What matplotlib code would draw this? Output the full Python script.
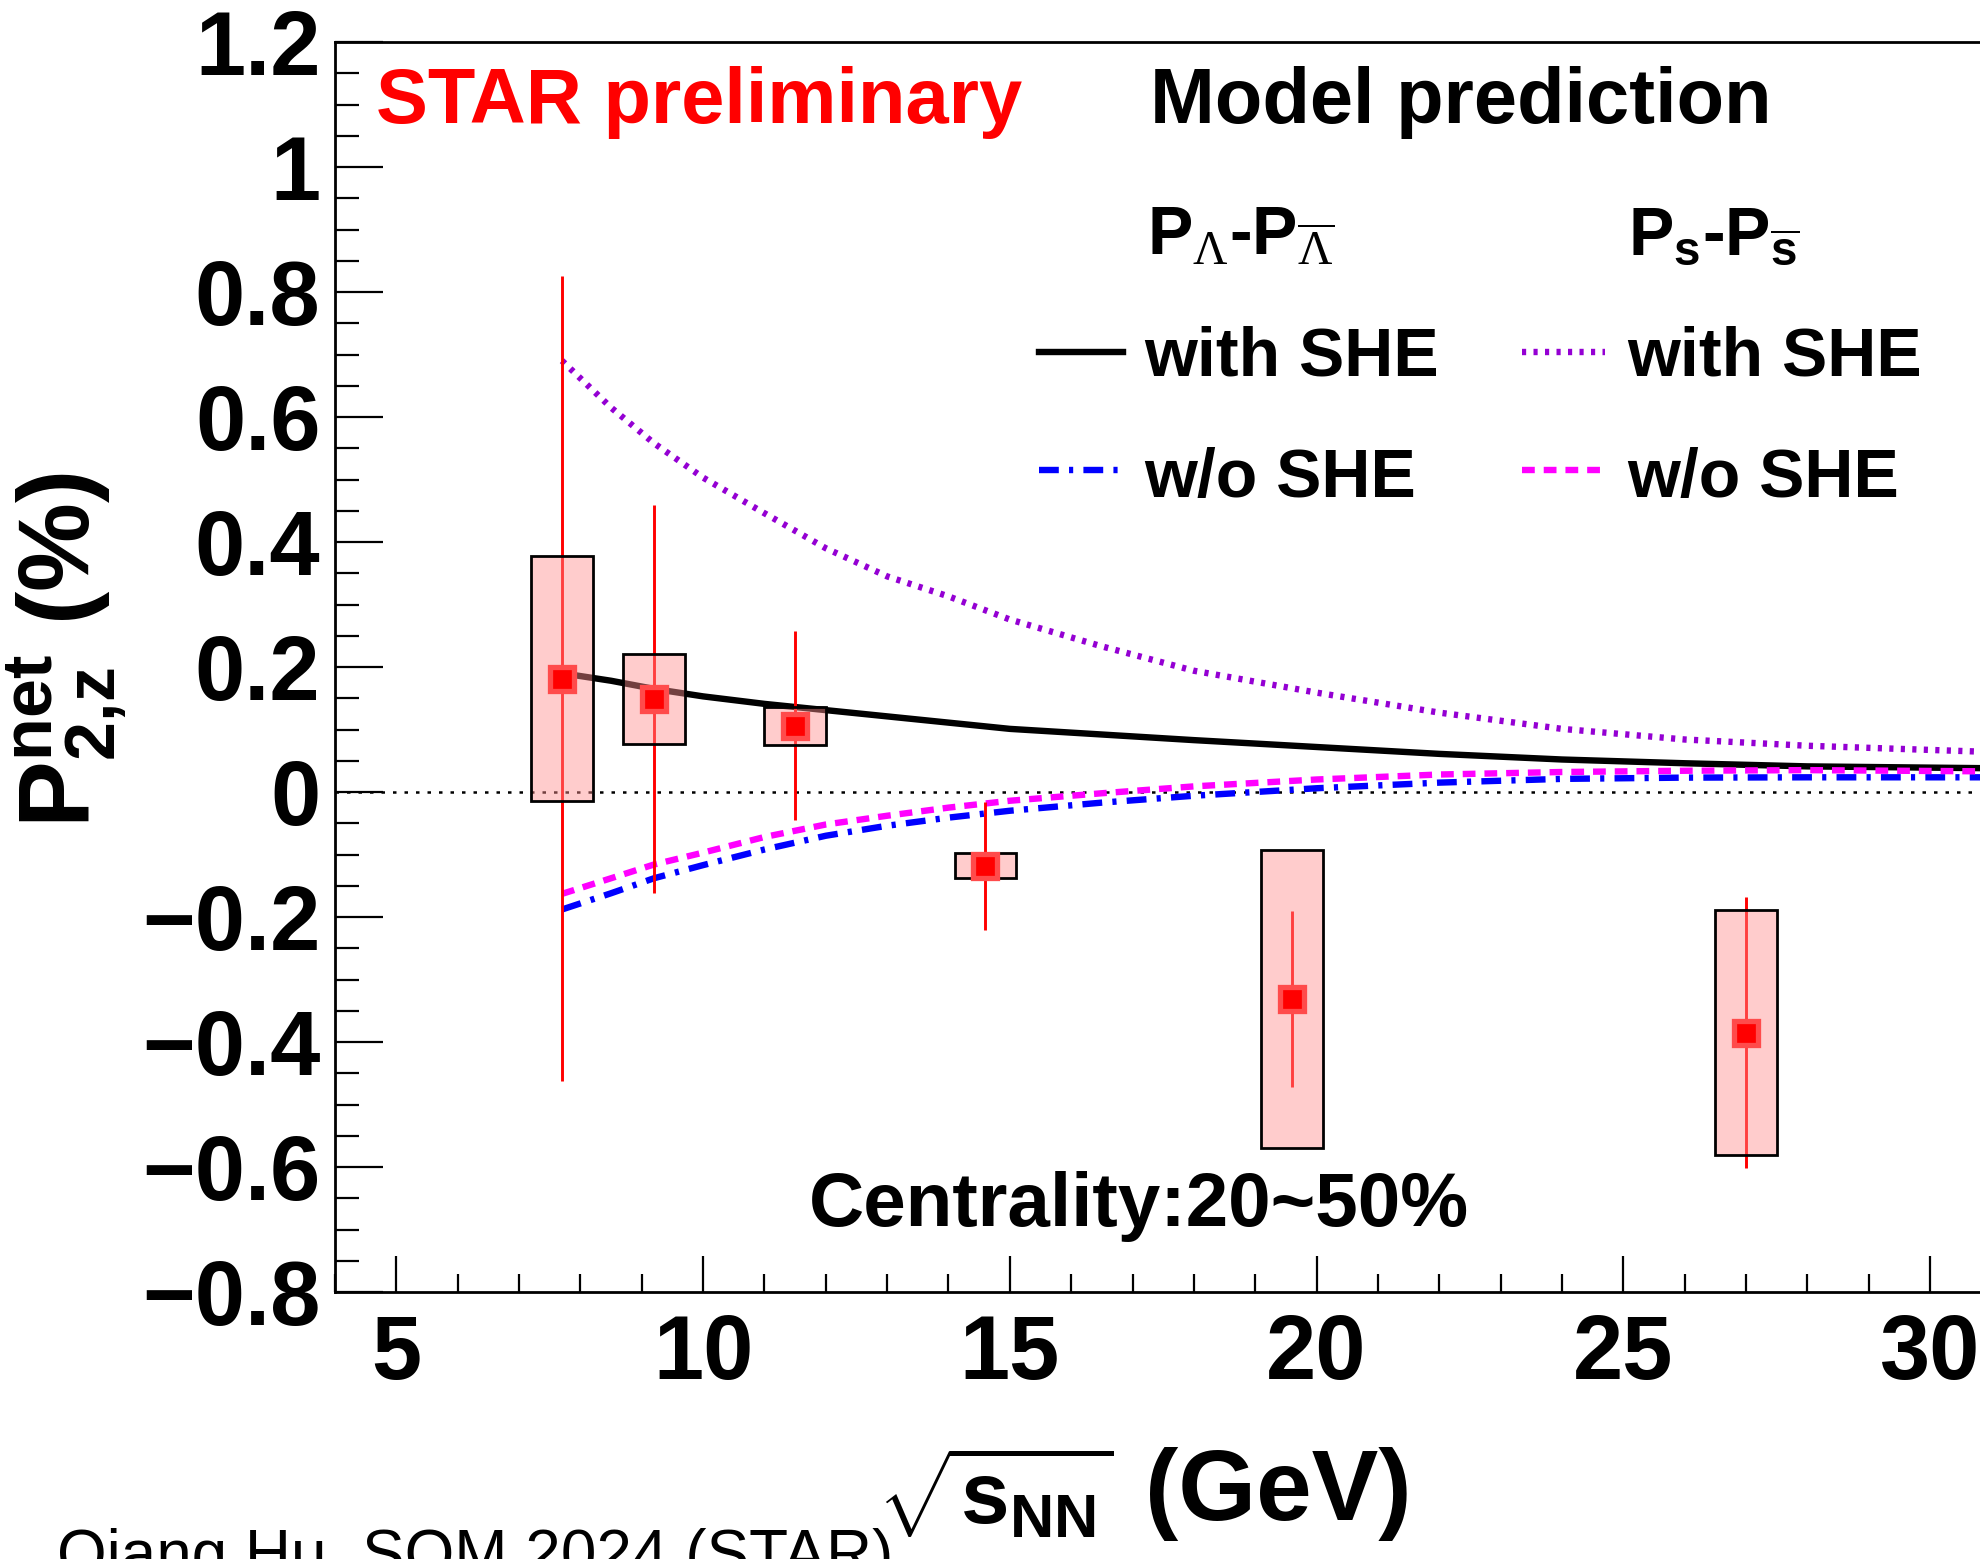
import matplotlib
matplotlib.use("Agg")
import matplotlib.pyplot as plt
from matplotlib.patches import Rectangle
from matplotlib.lines import Line2D
from matplotlib.ticker import MultipleLocator, FuncFormatter

W, H = 1981, 1559

plt.rcParams["font.family"] = "Liberation Sans"
plt.rcParams["font.weight"] = "bold"
plt.rcParams["mathtext.fontset"] = "custom"
plt.rcParams["mathtext.bf"] = "Liberation Sans:bold"
plt.rcParams["mathtext.rm"] = "Liberation Serif:weight=normal"
plt.rcParams["mathtext.it"] = "Liberation Sans:italic:bold"
plt.rcParams["axes.unicode_minus"] = True

# --- STAR measurement, 20-50% centrality ---
energy = [7.7, 9.2, 11.5, 14.6, 19.6, 27.0]
p2z = [0.181, 0.149, 0.106, -0.118, -0.331, -0.385]
stat_err = [0.644, 0.310, 0.151, 0.102, 0.141, 0.217]
sys_err = [0.196, 0.072, 0.030, 0.020, 0.239, 0.196]

# --- model predictions ---
model_energy = [7.7, 8.5, 9.2, 10, 11, 12, 13, 14, 15, 16.5, 18, 20, 22, 24, 26, 28, 31]
lam_she = [0.190, 0.178, 0.165, 0.153, 0.141, 0.131, 0.121, 0.111, 0.101, 0.092,
           0.083, 0.072, 0.061, 0.052, 0.046, 0.041, 0.038]
lam_noshe = [-0.188, -0.162, -0.138, -0.117, -0.092, -0.070, -0.054, -0.041, -0.030,
             -0.017, -0.006, 0.006, 0.015, 0.021, 0.023, 0.0235, 0.0235]
s_she = [0.690, 0.615, 0.558, 0.503, 0.446, 0.390, 0.345, 0.313, 0.276, 0.233,
         0.194, 0.159, 0.127, 0.101, 0.084, 0.074, 0.064]
s_noshe = [-0.163, -0.138, -0.116, -0.097, -0.072, -0.052, -0.038, -0.025, -0.014,
           -0.002, 0.009, 0.020, 0.028, 0.032, 0.034, 0.035, 0.033]

x_ticks = [5, 10, 15, 20, 25, 30]
y_ticks = [-0.8, -0.6, -0.4, -0.2, 0, 0.2, 0.4, 0.6, 0.8, 1, 1.2]

LW = 4.6
DOTTED = (0, (0.65, 1.15))
DASHED = (0, (2.0, 1.4))
DASHDOT = (0, (3.1, 1.6, 0.65, 1.6))


def fx(px):
    return px / W


def fy(py):
    return 1 - py / H


fig = plt.figure(figsize=(W / 100, H / 100), dpi=100)
xmin, xmax = 4, 32
ax = fig.add_axes([fx(335), fy(1292), (xmax - xmin) * 61.35 / W, (1292 - 42) / H])
ax.set_xlim(xmin, xmax)
ax.set_ylim(-0.8, 1.2)

# zero line
ax.axhline(0, color="black", lw=1.8, linestyle=(0, (1.4, 3.2)), zorder=1)

# model curves
ax.plot(model_energy, lam_she, color="black", lw=LW, zorder=2)
ax.plot(model_energy, lam_noshe, color="#0000ff", lw=LW, linestyle=DASHDOT, zorder=2)
ax.plot(model_energy, s_she, color="#9400d3", lw=LW, linestyle=DOTTED, zorder=2)
ax.plot(model_energy, s_noshe, color="#ff00ff", lw=LW, linestyle=DASHED, zorder=2)

# data: stat errors, syst boxes, markers
ax.errorbar(energy, p2z, yerr=stat_err, fmt="none", ecolor="red",
            elinewidth=2.1, capsize=0, zorder=3)
for e, v, s in zip(energy, p2z, sys_err):
    ax.add_patch(Rectangle((e - 0.5, v - s), 1.0, 2 * s,
                           facecolor=(1.0, 0.557, 0.557, 0.45),
                           edgecolor="black", lw=2, zorder=4))
ax.plot(energy, p2z, linestyle="none", marker="s", ms=16.8, mfc="red",
        mec="#ff4b4b", mew=3.8, zorder=5)

# axes styling
for side in ["left", "bottom", "top", "right"]:
    ax.spines[side].set_linewidth(2)
ax.set_xticks(x_ticks)
ax.set_yticks(y_ticks)
ax.xaxis.set_minor_locator(MultipleLocator(1))
ax.yaxis.set_minor_locator(MultipleLocator(0.05))
fmt = FuncFormatter(lambda v, pos: f"{v:g}".replace("-", "\u2212"))
ax.yaxis.set_major_formatter(fmt)
ax.xaxis.set_major_formatter(fmt)
ax.tick_params(which="both", direction="in", width=1.6, top=False, right=False)
ax.tick_params(axis="y", which="major", length=34.7, labelsize=65, pad=10.5)
ax.tick_params(axis="y", which="minor", length=17.3)
ax.tick_params(axis="x", which="major", length=26, labelsize=65, pad=15)
ax.tick_params(axis="x", which="minor", length=13)
for lab in ax.get_xticklabels() + ax.get_yticklabels():
    lab.set_fontweight("bold")

# axis titles
fig.text(fx(67), fy(650), r"$\mathbf{P}^{\mathbf{net}}_{\mathbf{2{,}z}}$ (%)",
         rotation=90, ha="center", va="center", fontsize=72, fontweight="bold")
fig.text(fx(1113), fy(1524), r"$\sqrt{\mathbf{s}_{\mathbf{NN}}}$",
         ha="right", va="baseline", fontsize=63, fontweight="bold")
fig.text(fx(1145), fy(1520), "(GeV)",
         ha="left", va="baseline", fontsize=72, fontweight="bold")

# labels on the pad
fig.text(fx(376), fy(122.6), "STAR preliminary", color="red",
         fontsize=56, fontweight="bold", va="baseline")
fig.text(fx(1150), fy(122.6), "Model prediction", color="black",
         fontsize=56, fontweight="bold", va="baseline")
fig.text(fx(809), fy(1225.5), "Centrality:20~50%", fontsize=55,
         fontweight="bold", va="baseline")
fig.text(fx(57), fy(1575), "Qiang Hu, SQM 2024 (STAR)", fontsize=46,
         fontweight="normal", va="baseline")

# legend block
fig.text(fx(1147), fy(255),
         r"$\mathbf{P}_{\mathrm{\Lambda}}$-$\mathbf{P}_{\overline{\mathrm{\Lambda}}}$",
         fontsize=49, fontweight="bold", va="baseline")
fig.text(fx(1628), fy(255),
         r"$\mathbf{P}_{\mathbf{s}}$-$\mathbf{P}_{\overline{\mathbf{s}}}$",
         fontsize=49, fontweight="bold", va="baseline")

entries = [
    (1039, 1123, 351.5, "black", "-", 1144, 375.7, "with SHE"),
    (1522, 1605, 351.5, "#9400d3", DOTTED, 1627, 375.7, "with SHE"),
    (1039, 1123, 470, "#0000ff", DASHDOT, 1144, 496.7, "w/o SHE"),
    (1522, 1605, 470, "#ff00ff", DASHED, 1627, 496.7, "w/o SHE"),
]
for x0, x1, yl, col, ls, xt, yt, label in entries:
    fig.add_artist(Line2D([fx(x0), fx(x1)], [fy(yl), fy(yl)], color=col,
                          lw=LW, linestyle=ls))
    fig.text(fx(xt), fy(yt), label, fontsize=49, fontweight="bold", va="baseline")

fig.savefig("out.png", dpi=100, facecolor="white")
